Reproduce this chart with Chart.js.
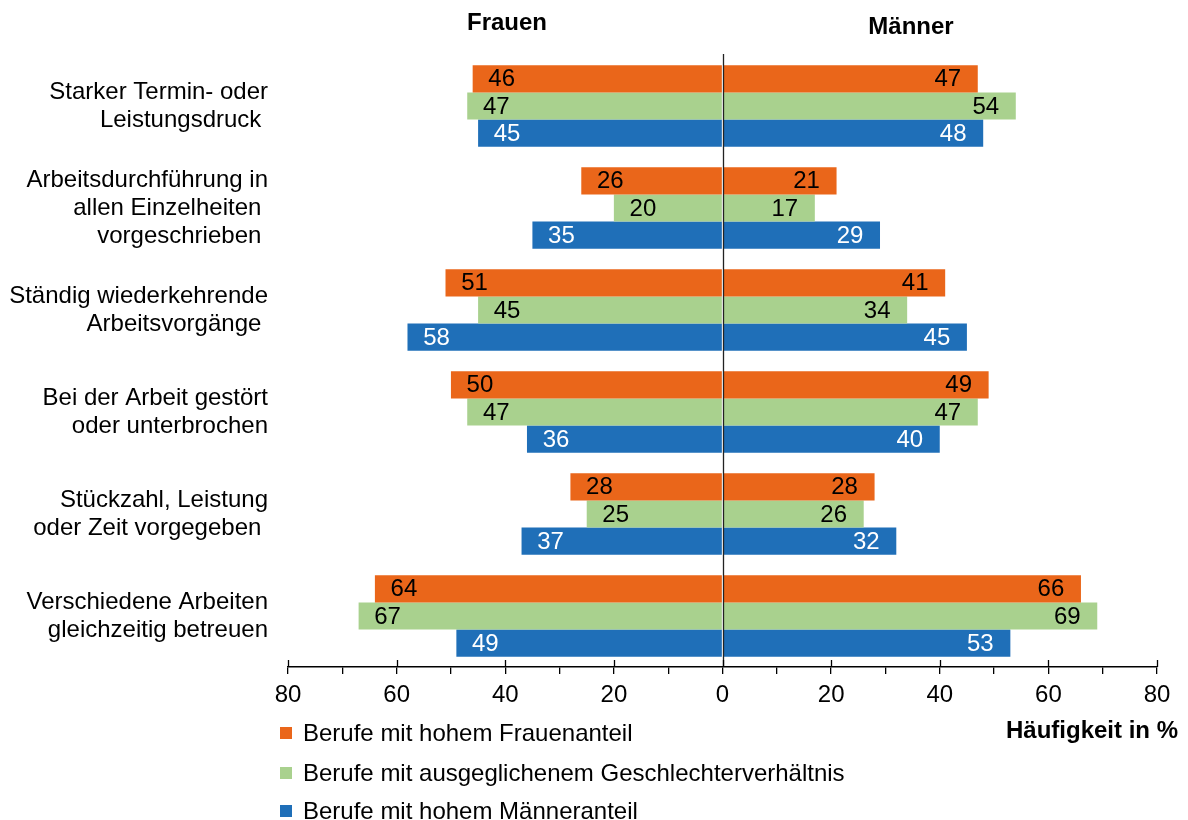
<!DOCTYPE html>
<html>
<head>
<meta charset="utf-8">
<script src="https://cdn.jsdelivr.net/npm/chart.js@4/dist/chart.umd.min.js"></script>
<style>
html,body{margin:0;padding:0;background:#fff;}
#wrap{width:1188px;height:820px;position:relative;}
</style>
</head>
<body>
<div id="wrap"><canvas id="c" width="1188" height="820"></canvas></div>
<script>
// ---- data ----
const categories = [
  ["Starker Termin- oder", "Leistungsdruck "],
  ["Arbeitsdurchführung in", "allen Einzelheiten ", "vorgeschrieben "],
  ["Ständig wiederkehrende", "Arbeitsvorgänge "],
  ["Bei der Arbeit gestört", "oder unterbrochen"],
  ["Stückzahl, Leistung", "oder Zeit vorgegeben "],
  ["Verschiedene Arbeiten", "gleichzeitig betreuen"]
];
const seriesNames = [
  "Berufe mit hohem Frauenanteil",
  "Berufe mit ausgeglichenem Geschlechterverhältnis",
  "Berufe mit hohem Männeranteil"
];
const frauenHochF   = [46, 26, 51, 50, 28, 64];
const frauenAusgegl = [47, 20, 45, 47, 25, 67];
const frauenHochM   = [45, 35, 58, 36, 37, 49];
const maennerHochF   = [47, 21, 41, 49, 28, 66];
const maennerAusgegl = [54, 17, 34, 47, 26, 69];
const maennerHochM   = [48, 29, 45, 40, 32, 53];
const xTicks = [80, 60, 40, 20, 0, 20, 40, 60, 80];
const axisTitle = "Häufigkeit in %";
const sideTitles = ["Frauen", "Männer"];

// ---- styles ----
const colors = ["#EA661A", "#A9D18E", "#1F6FB8"];
const labelColors = ["#000", "#000", "#fff"];
const FONT = "'Liberation Sans', Arial, Helvetica, sans-serif";

Chart.defaults.font.family = FONT;
Chart.defaults.font.size = 24;
Chart.defaults.color = "#000";

const neg = a => a.map(v => -v);
const datasets = [
  {label: seriesNames[0], data: neg(frauenHochF),   stack: "a", backgroundColor: colors[0], _c: 0},
  {label: seriesNames[0], data: maennerHochF,       stack: "a", backgroundColor: colors[0], _c: 0},
  {label: seriesNames[1], data: neg(frauenAusgegl), stack: "b", backgroundColor: colors[1], _c: 1},
  {label: seriesNames[1], data: maennerAusgegl,     stack: "b", backgroundColor: colors[1], _c: 1},
  {label: seriesNames[2], data: neg(frauenHochM),   stack: "c", backgroundColor: colors[2], _c: 2},
  {label: seriesNames[2], data: maennerHochM,       stack: "c", backgroundColor: colors[2], _c: 2}
];

const decor = {
  id: "decor",
  afterDatasetsDraw(chart) {
    const ctx = chart.ctx;
    const xs = chart.scales.x;
    const area = chart.chartArea;
    // value labels
    ctx.save();
    ctx.font = "24px " + FONT;
    ctx.textAlign = "center";
    ctx.textBaseline = "middle";
    chart.data.datasets.forEach((ds, i) => {
      const meta = chart.getDatasetMeta(i);
      meta.data.forEach((bar, j) => {
        const v = ds.data[j];
        const x = v < 0 ? bar.x + 29 : bar.x - 30;
        ctx.fillStyle = labelColors[ds._c];
        ctx.fillText(String(Math.abs(v)), x, bar.y + 1);
      });
    });
    // zero line
    const x0 = Math.round(xs.getPixelForValue(0)) + 0.5;
    ctx.strokeStyle = "#222";
    ctx.lineWidth = 1.3;
    ctx.beginPath();
    ctx.moveTo(x0, area.top - 1);
    ctx.lineTo(x0, area.bottom);
    ctx.stroke();
    // upward parts of major ticks
    ctx.strokeStyle = "#000";
    ctx.lineWidth = 1.3;
    for (let v = -80; v <= 80; v += 20) {
      const px = Math.round(xs.getPixelForValue(v)) + 0.5;
      ctx.beginPath();
      ctx.moveTo(px, area.bottom - 7);
      ctx.lineTo(px, area.bottom);
      ctx.stroke();
    }
    ctx.restore();
  },
  afterDraw(chart) {
    const ctx = chart.ctx;
    ctx.save();
    ctx.fillStyle = "#000";
    ctx.font = "bold 24px " + FONT;
    ctx.textBaseline = "middle";
    ctx.textAlign = "center";
    ctx.fillText(sideTitles[0], 507, 23);
    ctx.fillText(sideTitles[1], 911, 27);
    ctx.textAlign = "right";
    ctx.fillText(axisTitle, 1178, 731);
    // legend
    ctx.font = "24px " + FONT;
    ctx.textAlign = "left";
    const ys = [733, 773, 811];
    seriesNames.forEach((n, i) => {
      ctx.fillStyle = colors[i];
      ctx.fillRect(280, ys[i] - 6, 12, 12);
      ctx.fillStyle = "#000";
      ctx.fillText(n, 303, ys[i] + 1);
    });
    ctx.restore();
  }
};

new Chart(document.getElementById("c"), {
  type: "bar",
  data: {labels: categories, datasets},
  options: {
    indexAxis: "y",
    responsive: false,
    animation: false,
    devicePixelRatio: 1,
    layout: {padding: {top: 55, right: 31, left: 0, bottom: 0}},
    datasets: {bar: {categoryPercentage: 0.8, barPercentage: 1.0, borderWidth: 0}},
    plugins: {legend: {display: false}, tooltip: {enabled: false}},
    scales: {
      x: {
        stacked: true,
        min: -80, max: 80,
        afterFit(s) { s.height = 153; },
        grid: {drawOnChartArea: false, drawTicks: true, tickLength: 7, color: "#000", lineWidth: 1.3},
        border: {display: true, color: "#000", width: 1.5},
        ticks: {
          stepSize: 10, autoSkip: false, maxRotation: 0, padding: 7,
          color: "#000", font: {size: 24},
          callback: v => (v % 20 === 0 ? String(xTicks[(v + 80) / 20]) : "")
        }
      },
      y: {
        stacked: true,
        afterFit(s) { s.width = 288; },
        grid: {display: false, drawTicks: false},
        border: {display: false},
        ticks: {padding: 20, color: "#000", font: {size: 24, lineHeight: 1.17}, autoSkip: false}
      }
    }
  },
  plugins: [decor]
});
</script>
</body>
</html>
